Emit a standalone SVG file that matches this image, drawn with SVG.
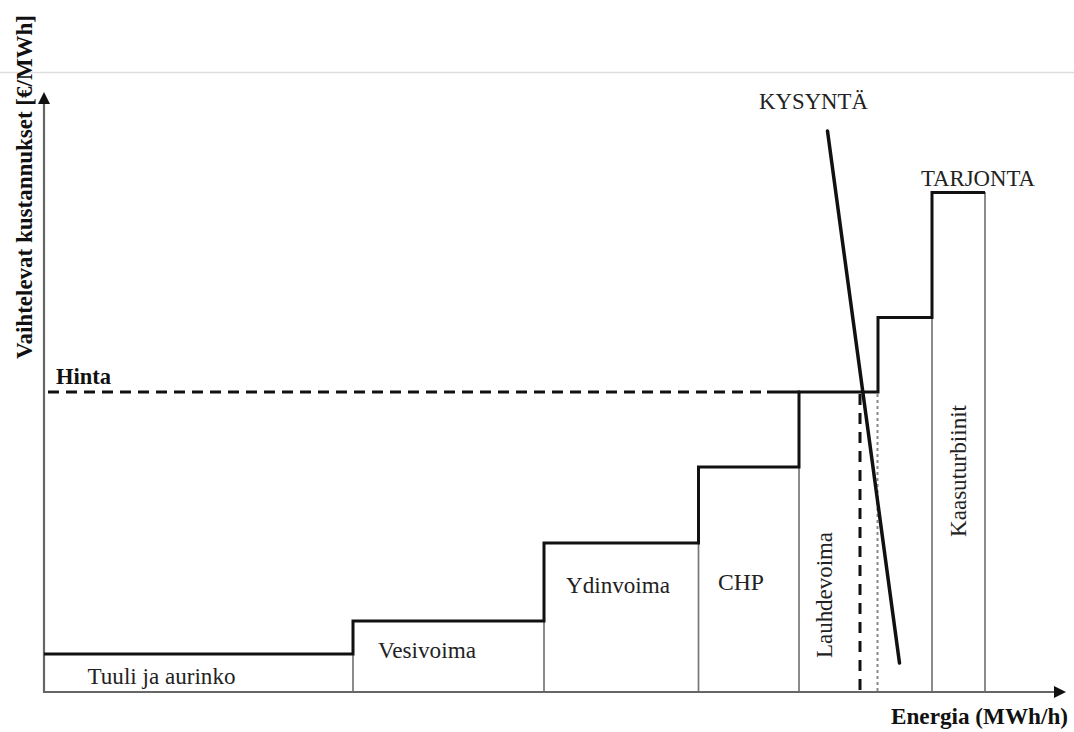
<svg xmlns="http://www.w3.org/2000/svg" width="1074" height="732" viewBox="0 0 1074 732">
  <defs>
    <style>
      .t { font-family: "Liberation Serif", "Times New Roman", serif; font-size: 24px; fill: #222; }
      .b { font-weight: bold; fill: #111; }
      .axis { stroke: #666; stroke-width: 2.2; fill: none; }
      .thin { stroke: #777; stroke-width: 1.7; fill: none; }
      .step { stroke: #111; stroke-width: 3; fill: none; stroke-linejoin: miter; }
    </style>
  </defs>
  <rect width="1074" height="732" fill="#fff"/>
  <line x1="0" y1="72.5" x2="1074" y2="72.5" stroke="#ddd" stroke-width="1.5"/>

  <g id="connectors">
    <g id="axes">
      <polyline class="axis" points="44,103 44,692 1055,692"/>
      <path d="M38,104 L44,92 L50,104 z" fill="#111"/>
      <path d="M1054,686 L1066,692 L1054,698 z" fill="#111"/>
    </g>
    <g id="block-lines">
      <line class="thin" x1="353" y1="621" x2="353" y2="691"/>
      <line class="thin" x1="544" y1="543" x2="544" y2="691"/>
      <line class="thin" x1="698.5" y1="467" x2="698.5" y2="691"/>
      <line class="thin" x1="799" y1="392" x2="799" y2="691"/>
      <line class="thin" x1="932" y1="317" x2="932" y2="691"/>
      <line class="thin" x1="985" y1="192" x2="985" y2="691"/>
      <line x1="877.5" y1="394" x2="877.5" y2="691" stroke="#888" stroke-width="2" stroke-dasharray="3 3"/>
    </g>
    <g id="tarjonta-curve">
      <path class="step" d="M44,654 H353 V621 H544 V543 H698.5 V467 H799 V392 H878 V317.5 H932 V192.5 H985"/>
    </g>
    <g id="hinta-line">
      <line x1="48" y1="392" x2="762" y2="392" stroke="#111" stroke-width="3" stroke-dasharray="11 7"/>
      <line x1="767" y1="392" x2="800" y2="392" stroke="#111" stroke-width="3"/>
      <line x1="860" y1="394" x2="860" y2="692" stroke="#111" stroke-width="3" stroke-dasharray="11 8"/>
    </g>
    <g id="kysynta-curve">
      <line x1="827.5" y1="131" x2="899.5" y2="663" stroke="#111" stroke-width="3.5" stroke-linecap="round"/>
    </g>
  </g>

  <g id="node-tuuli"><text class="t" x="87.5" y="684" textLength="148" lengthAdjust="spacingAndGlyphs">Tuuli ja aurinko</text></g>
  <g id="node-vesivoima"><text class="t" x="378" y="658" textLength="98" lengthAdjust="spacingAndGlyphs">Vesivoima</text></g>
  <g id="node-ydinvoima"><text class="t" x="566" y="593" textLength="104" lengthAdjust="spacingAndGlyphs">Ydinvoima</text></g>
  <g id="node-chp"><text class="t" x="718" y="590" textLength="46" lengthAdjust="spacingAndGlyphs">CHP</text></g>
  <g id="node-lauhdevoima"><text class="t" transform="translate(832,658) rotate(-90)" textLength="126" lengthAdjust="spacingAndGlyphs">Lauhdevoima</text></g>
  <g id="node-kaasuturbiinit"><text class="t" transform="translate(966,537) rotate(-90)" textLength="132" lengthAdjust="spacingAndGlyphs">Kaasuturbiinit</text></g>
  <g id="label-kysynta"><text class="t" x="759" y="109" textLength="109" lengthAdjust="spacingAndGlyphs">KYSYNTÄ</text></g>
  <g id="label-tarjonta"><text class="t" x="921" y="186" textLength="114" lengthAdjust="spacingAndGlyphs">TARJONTA</text></g>
  <g id="label-hinta"><text class="t b" x="56" y="384" textLength="55" lengthAdjust="spacingAndGlyphs">Hinta</text></g>
  <g id="label-x-axis"><text class="t b" x="891" y="724" textLength="177" lengthAdjust="spacingAndGlyphs">Energia (MWh/h)</text></g>
  <g id="label-y-axis"><text class="t b" transform="translate(32,359) rotate(-90)" textLength="344" lengthAdjust="spacingAndGlyphs">Vaihtelevat kustannukset [€/MWh]</text></g>
</svg>
